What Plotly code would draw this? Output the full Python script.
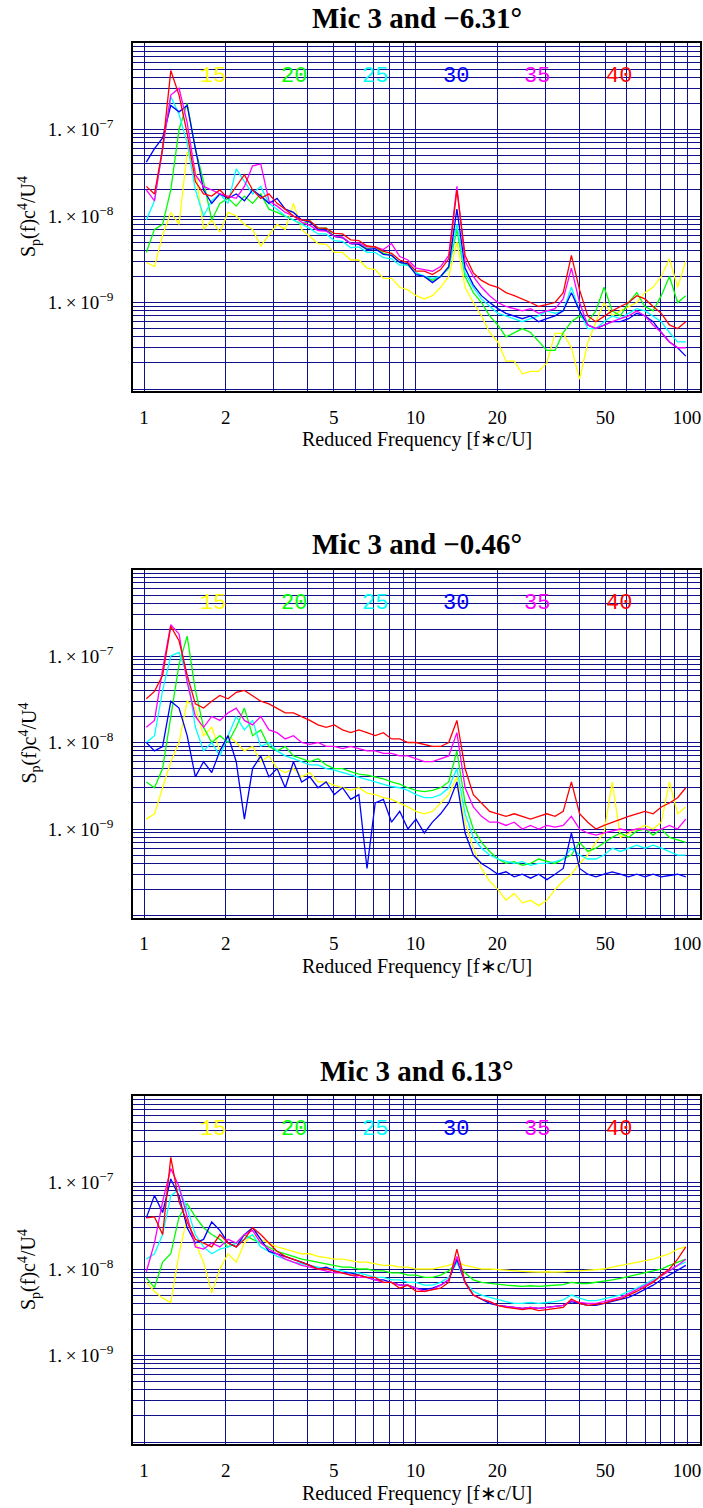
import math
import plotly.graph_objects as go

# Reduced frequency (shared abscissa of all spectra)
freq = [1.02, 1.093, 1.171, 1.255, 1.346, 1.442, 1.546, 1.657, 1.776, 1.903,
        2.04, 2.186, 2.343, 2.511, 2.691, 2.885, 3.091, 3.313, 3.551, 3.806,
        4.08, 4.373, 4.686, 5.023, 5.383, 5.769, 6.183, 6.627, 7.103, 7.612,
        8.16, 8.745, 9.373, 10.04, 10.77, 11.54, 12.37, 13.25, 14.2, 15.22,
        16.32, 17.49, 18.74, 20.09, 21.53, 23.08, 24.73, 26.51, 28.41, 30.45,
        32.64, 34.98, 37.49, 40.18, 43.06, 46.15, 49.46, 53.01, 56.81, 60.89,
        65.26, 69.94, 74.96, 80.34, 86.1, 92.28, 98.9]

# Spectra in units of 1e-9
UNIT = 1e-9

# ---------- Panel 1: Mic 3 and -6.31 deg ----------
p1_15 = [2.9, 2.6, 6, 11, 8, 55, 35, 7, 9, 6.5, 11, 10, 8, 7, 4.5, 6, 8, 7, 14, 7,
         5.8, 4.8, 4.7, 3.8, 3.8, 3.1, 3.1, 2.5, 2.4, 1.9, 1.9, 1.5, 1.4, 1.2, 1.1, 1.2, 1.5, 2.0, 5, 1.5,
         1.0, 0.7, 0.45, 0.35, 0.21, 0.21, 0.15, 0.16, 0.16, 0.2, 0.44, 0.44, 0.3, 0.13, 0.34, 0.6, 1.0, 0.7, 0.8, 0.9,
         1.0, 1.3, 1.5, 2.0, 3.2, 1.5, 3.0]
p1_20 = [3.8, 7, 8, 20, 100, 200, 60, 25, 9, 14, 16, 13, 17, 14, 18, 12, 11, 10, 9, 8,
         8.8, 7.2, 7.3, 5.8, 5.7, 4.8, 4.8, 4.2, 4.4, 3.7, 3.5, 2.9, 2.7, 2.2, 2.0, 1.8, 2.0, 2.5, 7, 2.0,
         1.3, 1.0, 0.7, 0.55, 0.4, 0.45, 0.5, 0.45, 0.35, 0.28, 0.28, 0.45, 0.6, 0.7, 0.6, 0.8, 1.5, 0.8, 0.7, 1.0,
         1.3, 0.9, 0.8, 1.2, 2.0, 1.0, 1.2]
p1_25 = [9, 15, 60, 240, 150, 70, 20, 10, 15, 18, 14, 35, 25, 18, 22, 14, 12, 10, 9, 8,
         7.2, 6.2, 6.2, 5.2, 5.1, 4.3, 4.4, 3.8, 3.8, 3.3, 3.2, 2.7, 2.7, 2.2, 2.0, 1.9, 2.0, 2.6, 8, 2.2,
         1.5, 1.1, 0.9, 0.75, 0.7, 0.65, 0.6, 0.65, 0.7, 0.8, 0.75, 0.8, 1.5, 0.8, 0.5, 0.5, 0.6, 0.7, 0.65, 0.75,
         0.85, 0.8, 0.7, 0.6, 0.45, 0.35, 0.35]
p1_30 = [42, 60, 80, 190, 160, 190, 60, 20, 14, 18, 16, 18, 15, 20, 17, 14, 16, 12, 11, 9,
         8.5, 7, 6.8, 5.8, 5.6, 4.8, 4.7, 4.1, 4.2, 3.6, 3.5, 2.9, 2.8, 2.1, 2.0, 1.7, 2.0, 2.6, 12, 2.5,
         1.6, 1.2, 1.0, 0.85, 0.75, 0.7, 0.65, 0.7, 0.6, 0.65, 0.7, 0.8, 1.3, 0.8, 0.55, 0.5, 0.55, 0.6, 0.6, 0.65,
         0.75, 0.7, 0.6, 0.45, 0.35, 0.3, 0.24]
p1_35 = [20, 15, 60, 250, 300, 120, 30, 22, 20, 18, 17, 16, 22, 38, 40, 15, 13, 11, 10, 8.5,
         7.8, 6.8, 6.7, 5.8, 5.7, 4.8, 4.9, 4.4, 4.4, 4.1, 4.8, 3.4, 3.1, 2.5, 2.4, 2.3, 2.6, 3.5, 22, 3.0,
         2.0, 1.5, 1.2, 1.0, 0.9, 0.85, 0.8, 0.85, 0.75, 0.8, 0.85, 1.1, 2.5, 1.0, 0.55, 0.5, 0.55, 0.6, 0.65, 0.7,
         0.8, 0.7, 0.55, 0.45, 0.35, 0.3, 0.3]
p1_40 = [22, 18, 60, 480, 250, 90, 25, 18, 17, 20, 16, 22, 30, 20, 16, 18, 14, 12, 10, 9,
         8.8, 7.3, 7.2, 6.3, 6.2, 5.3, 5.2, 4.5, 4.4, 3.9, 3.7, 3.1, 2.9, 2.3, 2.3, 2.1, 2.4, 3.2, 20, 3.5,
         2.2, 1.8, 1.6, 1.5, 1.3, 1.2, 1.1, 1.0, 0.9, 0.95, 1.0, 1.3, 3.5, 1.4, 0.7, 0.6, 0.7, 0.8, 0.9, 1.0,
         1.2, 1.1, 0.9, 0.75, 0.55, 0.5, 0.6]

# ---------- Panel 2: Mic 3 and -0.46 deg ----------
p2_15 = [1.3, 1.5, 3, 6, 10, 30, 25, 12, 15, 8, 12, 10, 8, 9, 6, 7, 5, 4.5, 5, 4,
         4.5, 3.5, 3.5, 3.2, 3, 2.8, 3, 2.6, 2.5, 2.3, 2.2, 2.0, 1.8, 1.6, 1.5, 1.6, 2.0, 2.5, 4, 1.2,
         0.6, 0.35, 0.25, 0.2, 0.15, 0.18, 0.14, 0.15, 0.13, 0.15, 0.2, 0.25, 0.3, 0.4, 0.5, 0.7, 0.9, 3.5, 0.8, 0.9,
         1.0, 1.1, 1.0, 1.2, 3.5, 1.5, 1.8]
p2_20 = [3.5, 3, 5, 20, 80, 170, 40, 15, 10, 12, 10, 15, 25, 12, 14, 9, 8, 9, 7, 6.5,
         6, 6.5, 5.5, 5, 5, 4.6, 4.3, 4.2, 4.0, 3.8, 3.5, 3.3, 3.0, 2.8, 2.7, 2.8, 3.0, 3.5, 8, 2.0,
         1.0, 0.7, 0.55, 0.45, 0.4, 0.42, 0.38, 0.4, 0.45, 0.42, 0.4, 0.45, 0.5, 0.7, 0.55, 0.6, 0.7, 0.8, 0.9, 0.8,
         0.95, 1.0, 0.85, 1.0, 0.8, 0.75, 0.7]
p2_25 = [10, 12, 40, 100, 110, 60, 15, 8, 10, 7, 12, 20, 14, 18, 9, 10, 8, 7, 6.5, 6,
         5.5, 5.5, 5, 4.8, 4.5, 4.2, 4, 3.7, 3.5, 3.3, 3.1, 3.0, 2.8, 2.5, 2.3, 2.3, 2.5, 3.0, 5, 1.5,
         0.8, 0.6, 0.5, 0.45, 0.42, 0.4, 0.42, 0.38, 0.4, 0.4, 0.42, 0.45, 0.6, 0.5, 0.45, 0.45, 0.5, 0.6, 0.55, 0.6,
         0.65, 0.6, 0.65, 0.6, 0.55, 0.5, 0.5]
p2_30 = [10, 8, 9, 30, 25, 12, 4, 6, 4.5, 8, 12, 6, 1.3, 5, 7, 4, 5, 3, 6, 3.5,
         4, 3, 3.5, 2.5, 3, 2.2, 2.5, 0.35, 2.0, 2.2, 1.2, 1.6, 1.0, 1.3, 0.9, 1.2, 1.5, 2.0, 3.5, 0.9,
         0.5, 0.4, 0.35, 0.3, 0.32, 0.28, 0.3, 0.27, 0.3, 0.26, 0.3, 0.35, 0.9, 0.35, 0.3, 0.28, 0.3, 0.32, 0.3, 0.28,
         0.3, 0.28, 0.3, 0.28, 0.29, 0.3, 0.28]
p2_35 = [15, 18, 70, 230, 180, 50, 20, 15, 20, 18, 22, 25, 18, 16, 20, 14, 13, 11, 12, 10,
         9.5, 10, 9, 9, 8.5, 9, 8.5, 8, 8, 7.5, 7.5, 7, 7, 6.5, 6, 6, 6.5, 7, 13, 3,
         1.8, 1.4, 1.2, 1.2, 1.1, 1.2, 1.0, 1.1, 1.0, 1.1, 1.05, 1.1, 1.4, 1.0, 0.9, 0.85, 0.9, 0.95, 1.0, 0.95,
         1.0, 1.0, 0.95, 1.0, 1.1, 1.0, 1.3]
p2_40 = [32, 39, 60, 220, 150, 60, 28, 25, 30, 35, 32, 38, 40, 35, 30, 28, 25, 22, 22, 20,
         18, 16, 15, 16, 14, 13, 14, 13, 12, 13, 11, 11, 10, 10, 9.5, 9, 9, 10, 18, 5,
         2.5, 2, 1.6, 1.5, 1.4, 1.5, 1.4, 1.3, 1.4, 1.5, 1.4, 1.6, 3.5, 1.5, 1.2, 1.0, 1.1, 1.2, 1.3, 1.4,
         1.5, 1.6, 1.5, 1.8, 2.0, 2.3, 3.0]

# ---------- Panel 3: Mic 3 and 6.13 deg ----------
p3_15 = [7, 5.5, 4.6, 4.1, 15, 40, 20, 12, 5.3, 10, 15, 12, 20, 25, 22, 20, 18, 17, 16, 15,
         15, 14, 13.5, 13, 13, 12.5, 12, 12, 11.5, 11, 11, 10.5, 10.5, 10, 10, 10, 10.5, 11, 12, 11,
         10.5, 10, 10, 9.8, 9.6, 9.5, 9.4, 9.3, 9.2, 9.3, 9.2, 9.3, 9.5, 9.5, 9.6, 9.8, 10, 10.5, 11, 11.5,
         12, 12.5, 13, 14, 15, 17, 18]
p3_20 = [7.9, 6.1, 12, 15, 40, 57, 40, 30, 25, 22, 18, 20, 25, 22, 20, 18, 16, 15, 14, 13,
         12.5, 12, 11.5, 11, 10.5, 10.5, 10, 10, 9.5, 9.5, 9, 9, 8.5, 8.5, 8, 8, 8.5, 9.5, 12, 9,
         7.5, 7, 6.8, 6.6, 6.5, 6.4, 6.3, 6.4, 6.3, 6.4, 6.5, 6.6, 7.0, 6.8, 6.8, 7.0, 7.2, 7.5, 7.8, 8.2,
         8.6, 9.0, 9.5, 10, 11, 12, 13]
p3_25 = [13, 15, 25, 70, 84, 50, 25, 18, 15, 17, 18, 20, 22, 25, 18, 16, 14, 13, 12, 11.5,
         11, 10.5, 10, 10, 9.5, 9, 9, 8.5, 8, 8, 7.5, 7.5, 7, 7, 6.5, 6.5, 7, 8, 12, 7,
         5.5, 5, 4.7, 4.4, 4.2, 4.0, 4.0, 4.1, 4.0, 4.1, 4.2, 4.4, 5.0, 4.6, 4.3, 4.3, 4.5, 4.7, 5.0, 5.5,
         6.0, 6.7, 7.5, 8.5, 9.5, 11, 12]
p3_30 = [39, 71, 45, 110, 70, 30, 20, 22, 35, 28, 20, 18, 25, 30, 22, 16, 15, 14, 13, 12,
         11, 10, 10.5, 9.5, 9, 9, 8.5, 8, 7.5, 7.5, 7, 6.5, 6.5, 6, 5.8, 6, 6.5, 7.5, 13, 7,
         5, 4.5, 4.0, 3.8, 3.7, 3.6, 3.5, 3.6, 3.5, 3.6, 3.7, 3.8, 4.2, 4.0, 3.8, 3.8, 4.0, 4.2, 4.4, 4.7,
         5.2, 5.8, 6.5, 7.5, 8.5, 9.5, 11]
p3_35 = [9.3, 20, 60, 145, 90, 40, 18, 17, 20, 18, 22, 20, 25, 28, 20, 17, 15, 13, 12, 11,
         10.5, 10, 9.5, 9, 9, 8.5, 8, 8, 7.5, 7, 7, 6.5, 6.5, 6, 5.5, 5.8, 6.5, 7.5, 14, 7,
         5, 4.5, 4.2, 3.8, 3.7, 3.6, 3.5, 3.6, 3.5, 3.6, 3.7, 3.8, 4.3, 4.1, 4.0, 4.0, 4.2, 4.4, 4.7, 5.2,
         5.8, 6.5, 7.2, 8.3, 9.5, 11, 13]
p3_40 = [39, 40, 25, 195, 60, 35, 22, 20, 18, 25, 20, 18, 22, 30, 25, 20, 16, 14, 13, 12,
         11, 10, 10, 9.5, 9, 8.5, 8.5, 8, 8, 7, 7, 6, 6.5, 5.5, 5.5, 5.8, 6, 7, 17, 7,
         5, 4.5, 4.2, 3.8, 3.6, 3.5, 3.4, 3.5, 3.3, 3.4, 3.5, 3.6, 4.5, 4.0, 3.8, 3.9, 4.0, 4.3, 4.5, 5.0,
         5.5, 6.2, 7.0, 8.5, 10, 13, 18]

panel_titles = ["Mic 3 and \u22126.31\u00b0", "Mic 3 and \u22120.46\u00b0", "Mic 3 and 6.13\u00b0"]
series_labels = ["15", "20", "25", "30", "35", "40"]
series_colors = ["#ffff00", "#00ff00", "#00ffff", "#0000ff", "#ff00ff", "#ff0000"]
panels = [
    [p1_15, p1_20, p1_25, p1_30, p1_35, p1_40],
    [p2_15, p2_20, p2_25, p2_30, p2_35, p2_40],
    [p3_15, p3_20, p3_25, p3_30, p3_35, p3_40],
]

# in-plot label positions (data units)
label_x = [1.8, 3.58, 7.11, 14.1, 28.1, 55.9]
label_y = 4.07e-7

# labelled ticks
x_tick_vals = [1, 2, 5, 10, 20, 50, 100]
x_tick_text = ["1", "2", "5", "10", "20", "50", "100"]
y_tick_vals = [1e-9, 1e-8, 1e-7]
y_tick_text = ["1.\u2009\u00d7\u200910<sup>\u22129</sup>", "1.\u2009\u00d7\u200910<sup>\u22128</sup>",
               "1.\u2009\u00d7\u200910<sup>\u22127</sup>"]
# unlabelled grid lines
x_grid_extra = [3, 4, 6, 7, 8, 9, 30, 40, 60, 70, 80, 90]
y_decades = [-10, -9, -8, -7]
y_grid_extra = [k * 10.0 ** e for e in y_decades for k in range(1, 10)
                if not (k == 1 and e in (-9, -8, -7))] + [1e-6]

W, H = 703, 1508
plot_left, plot_right = 133, 700
panel_tops = [43, 569.5, 1096]
panel_h = 348
x_range = [-0.0405, 2.0475]
y_range = [-10.023, -6.0]

GRID = "#10108a"
SERIF = "Liberation Serif"

fig = go.Figure()
annotations = []
for i, series in enumerate(panels):
    n = "" if i == 0 else str(i + 1)
    xa, ya = "x" + n, "y" + n
    for lab, col, vals in zip(series_labels, series_colors, series):
        fig.add_trace(go.Scatter(
            x=freq, y=[v * UNIT for v in vals], mode="lines",
            line=dict(color=col, width=1.3), name=lab, showlegend=False,
            xaxis=xa, yaxis=ya, hoverinfo="skip"))
    top = panel_tops[i]
    bot = top + panel_h
    dom_y = [1 - bot / H, 1 - top / H]
    axis_common = dict(showgrid=True, gridcolor=GRID, gridwidth=1, zeroline=False,
                       showline=True, linecolor="black", linewidth=1.5, mirror=True,
                       ticks="", tickfont=dict(family=SERIF, size=19, color="black"))
    fig.layout["xaxis" + n] = dict(axis_common, type="log", range=x_range,
                                   domain=[plot_left / W, plot_right / W],
                                   anchor=ya, tickmode="array", tickvals=x_tick_vals,
                                   ticktext=x_tick_text, ticklabelstandoff=8,
                                   minor=dict(tickmode="array", tickvals=x_grid_extra, showgrid=True,
                                              gridcolor=GRID, gridwidth=1, ticks=""))
    fig.layout["yaxis" + n] = dict(axis_common, type="log", range=y_range, domain=dom_y,
                                   anchor=xa, tickmode="array", tickvals=y_tick_vals,
                                   ticktext=y_tick_text, ticklabelstandoff=14,
                                   minor=dict(tickmode="array", tickvals=y_grid_extra, showgrid=True,
                                              gridcolor=GRID, gridwidth=1, ticks=""))
    # title
    annotations.append(dict(text="<b>" + panel_titles[i] + "</b>", xref="paper", yref="paper",
                            x=(plot_left + plot_right) / 2 / W, y=1 - (top - 25) / H,
                            xanchor="center", yanchor="middle", showarrow=False,
                            font=dict(family=SERIF, size=29, color="black")))
    # x axis title
    annotations.append(dict(text="Reduced Frequency [f\u2217c/U]", xref="paper", yref="paper",
                            x=(plot_left + plot_right) / 2 / W, y=1 - (bot + 49) / H,
                            xanchor="center", yanchor="middle", showarrow=False,
                            font=dict(family=SERIF, size=20, color="black")))
    # y axis title
    annotations.append(dict(text="S<sub>p</sub>(f)c<sup>4</sup>/U<sup>4</sup>", xref="paper", yref="paper",
                            x=29 / W, y=1 - (top + panel_h / 2) / H, textangle=-90,
                            xanchor="center", yanchor="middle", showarrow=False,
                            font=dict(family=SERIF, size=20, color="black")))
    # series labels
    for lab, col, lx in zip(series_labels, series_colors, label_x):
        annotations.append(dict(text=lab, xref=xa, yref=ya, x=math.log10(lx), y=math.log10(label_y),
                                xanchor="center", yanchor="middle", showarrow=False,
                                font=dict(family="Liberation Mono", size=22, color=col)))

fig.update_layout(width=W, height=H, margin=dict(l=0, r=0, t=0, b=0),
                  paper_bgcolor="white", plot_bgcolor="white", annotations=annotations,
                  showlegend=False)
fig.write_html("out.html")
